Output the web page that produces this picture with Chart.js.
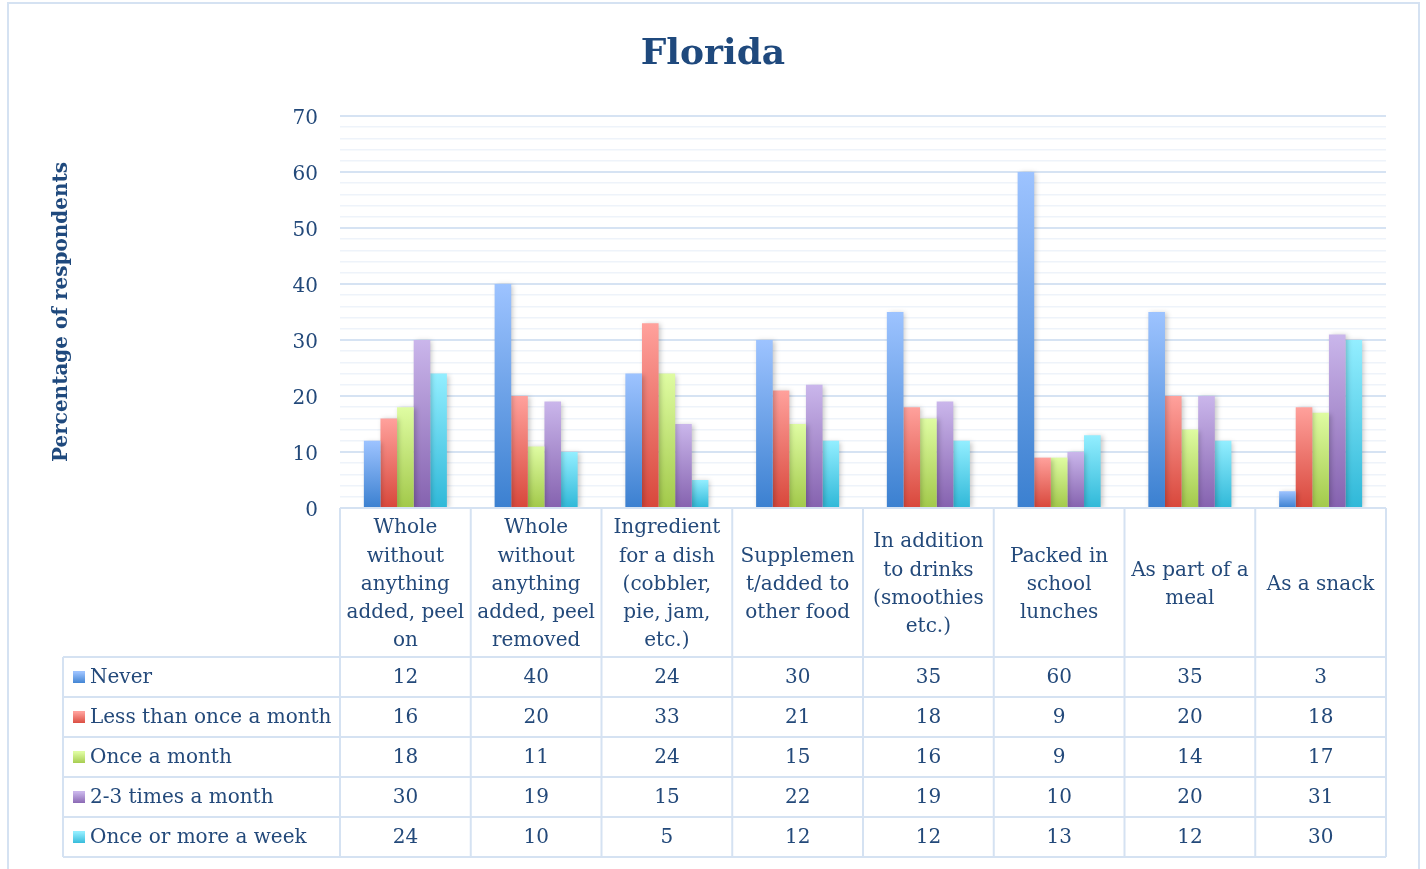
<!DOCTYPE html>
<html>
<head>
<meta charset="utf-8">
<script src="https://cdn.jsdelivr.net/npm/chart.js@4/dist/chart.umd.min.js"></script>
<style>
  body { margin: 0; background: #fff; }
  canvas { display: block; }
</style>
</head>
<body>
<canvas id="chart" width="1426" height="869"></canvas>
<script>
const categories = [
  ["Whole", "without", "anything", "added, peel", "on"],
  ["Whole", "without", "anything", "added, peel", "removed"],
  ["Ingredient", "for a dish", "(cobbler,", "pie, jam,", "etc.)"],
  ["Supplemen", "t/added to", "other food"],
  ["In addition", "to drinks", "(smoothies", "etc.)"],
  ["Packed in", "school", "lunches"],
  ["As part of a", "meal"],
  ["As a snack"]
];
const seriesNames = ["Never", "Less than once a month", "Once a month", "2-3 times a month", "Once or more a week"];
const never = [12, 40, 24, 30, 35, 60, 35, 3];
const lessThanMonthly = [16, 20, 33, 21, 18, 9, 20, 18];
const onceMonth = [18, 11, 24, 15, 16, 9, 14, 17];
const twoThree = [30, 19, 15, 22, 19, 10, 20, 31];
const weekly = [24, 10, 5, 12, 12, 13, 12, 30];
const yTicks = [0, 10, 20, 30, 40, 50, 60, 70];

// top / bottom gradient colours per series
const shades = [
  ["#9DC3FF", "#3B80D0"],
  ["#FFA19C", "#D8473B"],
  ["#DFFCA2", "#A2C94A"],
  ["#CAB6EB", "#8562AF"],
  ["#93EEFF", "#2FB8D8"]
];

const textBlue = "#23497A";
const lineBlue = "#D5E2F2";
const serif = "'DejaVu Serif', serif";

function barFill(i) {
  return (c) => {
    const chart = c.chart;
    if (!chart.chartArea || c.parsed == null) return shades[i][0];
    const y = chart.scales.y;
    const top = y.getPixelForValue(c.parsed.y);
    const bottom = y.getPixelForValue(0);
    const g = chart.ctx.createLinearGradient(0, top, 0, bottom);
    g.addColorStop(0, shades[i][0]);
    g.addColorStop(1, shades[i][1]);
    return g;
  };
}

const allSeries = [never, lessThanMonthly, onceMonth, twoThree, weekly];

const shadowPlugin = {
  id: "barShadow",
  beforeDatasetsDraw(chart) {
    const ctx = chart.ctx;
    ctx.save();
    ctx.shadowColor = "rgba(0,0,0,0.22)";
    ctx.shadowBlur = 5;
    ctx.shadowOffsetX = 2;
    ctx.shadowOffsetY = 1;
  },
  afterDatasetsDraw(chart) {
    chart.ctx.restore();
  }
};

const tablePlugin = {
  id: "dataTable",
  beforeDraw(chart) {
    const ctx = chart.ctx;
    ctx.save();
    ctx.strokeStyle = lineBlue;
    ctx.lineWidth = 2;
    ctx.strokeRect(8, 3, 1411, 900);
    // chart title
    ctx.fillStyle = "#1F497D";
    ctx.font = "bold 36px " + serif;
    ctx.textAlign = "center";
    ctx.textBaseline = "middle";
    ctx.fillText("Florida", chart.width / 2, 55);
    ctx.restore();
  },
  afterDraw(chart) {
    const ctx = chart.ctx;
    const x = chart.scales.x;
    const area = chart.chartArea;
    const colW = x.getPixelForValue(1) - x.getPixelForValue(0);
    const n = categories.length;
    const labelTop = area.bottom;
    const labelBottom = 657;
    const rowH = 40;
    const tableLeft = 63;
    const tableBottom = labelBottom + rowH * seriesNames.length;

    ctx.save();
    ctx.strokeStyle = lineBlue;
    ctx.lineWidth = 2;
    ctx.beginPath();
    ctx.moveTo(area.left, labelTop);
    ctx.lineTo(area.right, labelTop);
    for (let i = 0; i <= n; i++) {
      const px = i < n ? x.getPixelForValue(i) - colW / 2 : x.getPixelForValue(n - 1) + colW / 2;
      ctx.moveTo(px, labelTop);
      ctx.lineTo(px, tableBottom);
    }
    for (let r = 0; r <= seriesNames.length; r++) {
      const py = labelBottom + r * rowH;
      ctx.moveTo(tableLeft, py);
      ctx.lineTo(area.right, py);
    }
    ctx.moveTo(tableLeft, labelBottom);
    ctx.lineTo(tableLeft, tableBottom);
    ctx.stroke();

    ctx.fillStyle = textBlue;
    ctx.font = "20px " + serif;
    ctx.textAlign = "center";
    ctx.textBaseline = "middle";

    // category labels
    const lh = 28.2;
    const mid = (labelTop + labelBottom) / 2 + 2;
    categories.forEach((lines, i) => {
      const cx = x.getPixelForValue(i);
      const start = mid - (lines.length - 1) * lh / 2;
      lines.forEach((t, k) => ctx.fillText(t, cx, start + k * lh));
    });

    // series rows
    seriesNames.forEach((name, r) => {
      const cy = labelBottom + r * rowH + rowH / 2 + 1;
      const g = ctx.createLinearGradient(0, cy - 6, 0, cy + 6);
      g.addColorStop(0, shades[r][0]);
      g.addColorStop(1, shades[r][1]);
      ctx.fillStyle = g;
      ctx.fillRect(73, cy - 7, 12, 12);
      ctx.fillStyle = textBlue;
      ctx.textAlign = "left";
      ctx.fillText(name, 90, cy);
      ctx.textAlign = "center";
      allSeries[r].forEach((v, i) => ctx.fillText(String(v), x.getPixelForValue(i), cy));
    });
    ctx.restore();
  }
};

new Chart(document.getElementById("chart"), {
  type: "bar",
  data: {
    labels: categories.map(c => c.join(" ")),
    datasets: seriesNames.map((name, i) => ({
      label: name,
      data: allSeries[i],
      backgroundColor: barFill(i),
      borderWidth: 0,
      barPercentage: 1,
      categoryPercentage: 0.635
    }))
  },
  options: {
    responsive: false,
    animation: false,
    layout: { padding: { left: 0, right: 40, top: 116, bottom: 0 } },
    plugins: {
      legend: { display: false },
      tooltip: { enabled: false },
      title: { display: false }
    },
    scales: {
      x: {
        grid: { display: false },
        border: { display: false },
        ticks: { display: false },
        afterFit: (s) => { s.height = 869 - 508; }
      },
      y: {
        min: 0,
        max: 70,
        border: { display: false },
        afterFit: (s) => { s.width = 340; },
        ticks: {
          stepSize: 2,
          autoSkip: false,
          padding: 22,
          labelOffset: 3,
          color: textBlue,
          font: { family: serif, size: 20 },
          callback: (v) => yTicks.includes(v) ? String(v) : ""
        },
        grid: {
          drawTicks: false,
          color: (c) => c.tick && c.tick.value % 10 === 0 ? "#D6E3F3" : "#EEF3FA",
          lineWidth: (c) => c.tick && c.tick.value % 10 === 0 ? 2 : 1.5
        },
        title: {
          display: true,
          text: "Percentage of respondents",
          color: "#1F497D",
          font: { family: serif, size: 20, weight: "bold" },
          padding: { top: 50, bottom: 0 }
        }
      }
    }
  },
  plugins: [shadowPlugin, tablePlugin]
});
</script>
</body>
</html>
